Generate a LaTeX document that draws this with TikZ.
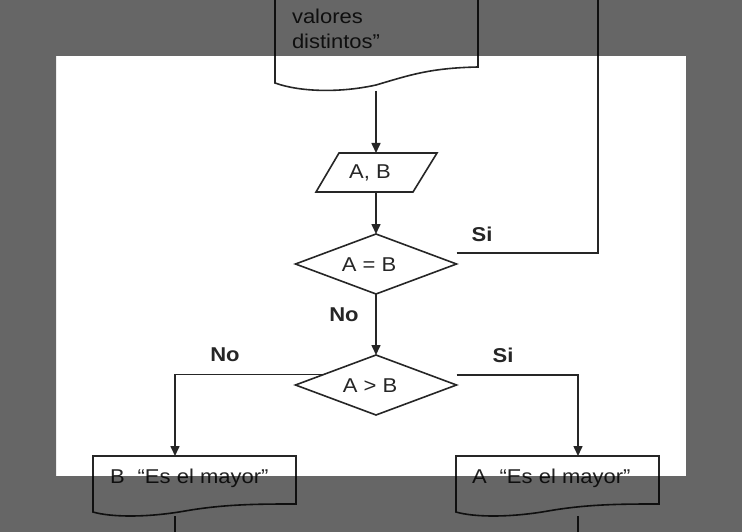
\documentclass[tikz,border=0pt]{standalone}
\usepackage{fontspec}
\setmainfont[FakeStretch=1.1]{Liberation Sans}
\usetikzlibrary{shapes.geometric,arrows.meta,calc}
\begin{document}
\begin{tikzpicture}[x=1pt,y=-1pt,
  every node/.style={font=\fontsize{20}{25}\selectfont, text=black!85, inner sep=0pt, outer sep=0pt},
  ln/.style={draw=black!85, line width=1.6pt},
  arr/.style={ln, -{Triangle[length=10pt,width=9pt]}},
  decision/.style={diamond, ln, minimum width=161pt, minimum height=60pt},
  lbl/.style={font=\fontsize{20}{25}\selectfont\bfseries}
]
\useasboundingbox (0,0) rectangle (742,532);
\clip (0,0) rectangle (742,532);
\fill[white] (0,0) rectangle (742,532);

% top document (output)
\draw[ln] (275,-10) -- (275,83) .. controls (300,92) and (340,93) .. (376,85)
  .. controls (410,75) and (430,68) .. (478,67) -- (478,-10);
\node[anchor=base west] (doca) at (292,24) {valores};
\node[anchor=base west] (docb) at (292,49) {distintos”};
\coordinate (docbot) at (376,91);

% input
\draw[ln] (339,153) -- (437,153) -- (413,192) -- (316,192) -- cycle;
\node (iot) at (370,173) {A, B};
\coordinate (iotop) at (376,153);
\coordinate (iobot) at (376,192);

% decisions
\node[decision] (d1) at (376,264) {};
\node (d1t) at (369,265) {A = B};
\node[decision] (d2) at (376,385) {};
\node (d2t) at (370,386) {A > B};

% bottom documents
\draw[ln] (93,456) -- (93,512) .. controls (110,517) and (145,518) .. (185,511)
  .. controls (225,504) and (260,504) .. (296,504) -- (296,456) -- cycle;
\draw[ln] (456,456) -- (456,512) .. controls (473,517) and (508,518) .. (548,511)
  .. controls (588,504) and (623,504) .. (659,504) -- (659,456) -- cycle;
\node[anchor=base west] (lt) at (110,483) {B\hspace{13pt}“Es el mayor”};
\node[anchor=base west] (rt) at (472,483) {A\hspace{13pt}“Es el mayor”};
\coordinate (ltop) at (175,456);
\coordinate (rtop) at (578,456);
\coordinate (lbot) at (175,516);
\coordinate (rbot) at (578,516);
\coordinate (lend) at (175,540);
\coordinate (rend) at (578,540);
\coordinate (topend) at (598,-10);

% connectors
\draw[arr] (docbot) -- (iotop);
\draw[arr] (iobot) -- (d1.north);
\draw[arr] (d1.south) -- (d2.north);
\draw[ln] ([yshift=11pt]d1.east) -| (topend);
\draw[arr] ($(d2.west)!0.35!(d2.north)$) -| (ltop);
\draw[arr] ([yshift=10pt]d2.east) -| (rtop);
\draw[ln] (lbot) -- (lend);
\draw[ln] (rbot) -- (rend);

% labels
\node[lbl] (si1) at (482,234) {Si};
\node[lbl] (no1) at (344,315) {No};
\node[lbl] (no2) at (225,355) {No};
\node[lbl] (si2) at (503,355) {Si};

% dim overlay outside window
\fill[black, fill opacity=0.6, even odd rule] (0,0) rectangle (742,532) (56,56) rectangle (686,476);
\end{tikzpicture}
\end{document}
